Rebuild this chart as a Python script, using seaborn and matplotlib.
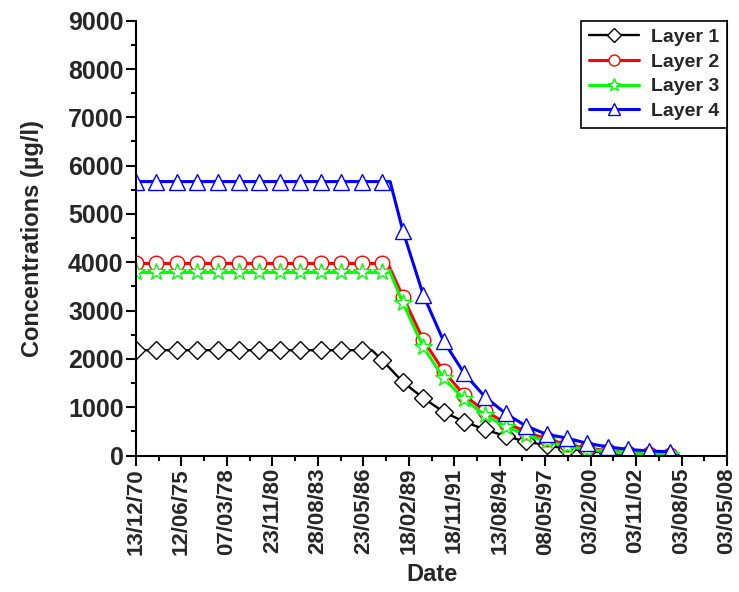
import matplotlib
matplotlib.use("Agg")
import matplotlib.pyplot as plt
from matplotlib.lines import Line2D
from matplotlib.ticker import MultipleLocator
import seaborn as sns
import pandas as pd

# ---------------- data ----------------
tick_labels = ["13/12/70", "12/06/75", "07/03/78", "23/11/80", "28/08/83",
               "23/05/86", "18/02/89", "18/11/91", "13/08/94", "08/05/97",
               "03/02/00", "03/11/02", "03/08/05", "03/05/08"]

# x positions of the sampled points (in tick-interval units)
x_points = [0.00, 0.45, 0.90, 1.35, 1.81, 2.26, 2.71, 3.16, 3.61, 4.06,
            4.51, 4.97, 5.42, 5.87, 6.32, 6.77, 7.22, 7.67, 8.13, 8.58,
            9.03, 9.48, 9.93, 10.38, 10.83, 11.29, 11.74]

layer1 = [2180, 2180, 2180, 2180, 2180, 2180, 2180, 2180, 2180, 2180, 2180, 2180,
          1970, 1520, 1190, 900, 700, 540, 400, 290, 210, 140, 90, 55, 30, 15, 5]
layer2 = [3975, 3975, 3975, 3975, 3975, 3975, 3975, 3975, 3975, 3975, 3975, 3975, 3975,
          3290, 2390, 1740, 1250, 920, 680, 490, 340, 230, 150, 100, 60, 35, 20]
layer3 = [3790, 3790, 3790, 3790, 3790, 3790, 3790, 3790, 3790, 3790, 3790, 3790, 3790,
          3160, 2240, 1600, 1160, 840, 600, 430, 290, 190, 120, 75, 45, 25, 10]
layer4 = [5670, 5670, 5670, 5670, 5670, 5670, 5670, 5670, 5670, 5670, 5670, 5670, 5670,
          4650, 3320, 2360, 1700, 1220, 870, 610, 440, 360, 250, 180, 125, 95, 75]

# unmarked break points where each curve starts falling, and the common end point
break_x = [5.19, 5.54, 5.59, 5.59]
end_x = 11.89
end_value = 0

series_names = ["Layer 1", "Layer 2", "Layer 3", "Layer 4"]
series_values = [layer1, layer2, layer3, layer4]

# ---------------- style ----------------
colors = ["#000000", "#FF0000", "#00FF00", "#0000FF"]
markers = ["D", "o", "*", "^"]
msizes = [9.5, 10.5, 13.0, 12.0]
lwidths = [1.7, 2.2, 2.2, 2.2]

sns.set_style("ticks")
plt.rcParams["font.family"] = ["Liberation Sans", "DejaVu Sans"]
plt.rcParams["font.weight"] = "bold"

fig = plt.figure(figsize=(7.39, 5.92), dpi=100)
ax = fig.add_axes([136 / 739, 1 - 455.5 / 592, (727 - 136) / 739, (455.5 - 20.7) / 592])

handles = []
for name, vals, bx, col, mk, ms, lw in zip(series_names, series_values, break_x,
                                           colors, markers, msizes, lwidths):
    xs = list(x_points)
    ys = list(vals)
    # insert break point (flat level) keeping x order
    k = sum(1 for v in xs if v < bx)
    xs.insert(k, bx)
    ys.insert(k, vals[k - 1])
    xs.append(end_x)
    ys.append(end_value)
    df = pd.DataFrame({"x": xs, "y": ys})
    mark_idx = [i for i in range(len(xs)) if i != k and i != len(xs) - 1]
    sns.lineplot(data=df, x="x", y="y", ax=ax, color=col, lw=lw, sort=False,
                 marker=mk, markersize=ms, markerfacecolor="white",
                 markeredgecolor=col, markeredgewidth=1.0,
                 markevery=mark_idx, legend=False, estimator=None)
    handles.append(Line2D([], [], color=col, lw=lw, marker=mk, markersize=ms * 0.75,
                          markerfacecolor="white", markeredgecolor=col,
                          markeredgewidth=1.0, label=name))

ax.set_xlim(0, 13)
ax.set_ylim(0, 9000)
ax.set_xticks(range(len(tick_labels)))
ax.set_xticklabels(tick_labels, rotation=90, fontsize=16, fontweight="bold")
ax.xaxis.set_minor_locator(MultipleLocator(0.5))
ax.yaxis.set_major_locator(MultipleLocator(1000))
ax.yaxis.set_minor_locator(MultipleLocator(500))
for lab in ax.get_yticklabels():
    lab.set_fontsize(18)
    lab.set_fontweight("bold")

ax.tick_params(axis="both", which="major", direction="out", length=7, width=1.5,
               color="black", pad=2)
ax.tick_params(axis="both", which="minor", direction="out", length=3.5, width=1.5,
               color="black")
ax.tick_params(axis="y", which="both", right=False)
ax.tick_params(axis="x", which="both", top=False)

for side in ["left", "bottom", "right"]:
    ax.spines[side].set_visible(True)
    ax.spines[side].set_linewidth(1.5)
    ax.spines[side].set_color("black")
ax.spines["top"].set_visible(False)

ax.set_xlabel("Date", fontsize=17, fontweight="bold", labelpad=6)
ax.set_ylabel("Concentrations (µg/l)", fontsize=17, fontweight="bold", labelpad=17)

leg = ax.legend(handles=handles, loc="upper right", bbox_to_anchor=(1.0, 1.0),
                borderaxespad=0.0, prop={"weight": "bold", "size": 14},
                frameon=True, fancybox=False, edgecolor="black", framealpha=1,
                handlelength=2.6, handletextpad=0.6, labelspacing=0.36,
                borderpad=0.4)
leg.get_frame().set_linewidth(1.2)

fig.savefig("out.png", dpi=100)
